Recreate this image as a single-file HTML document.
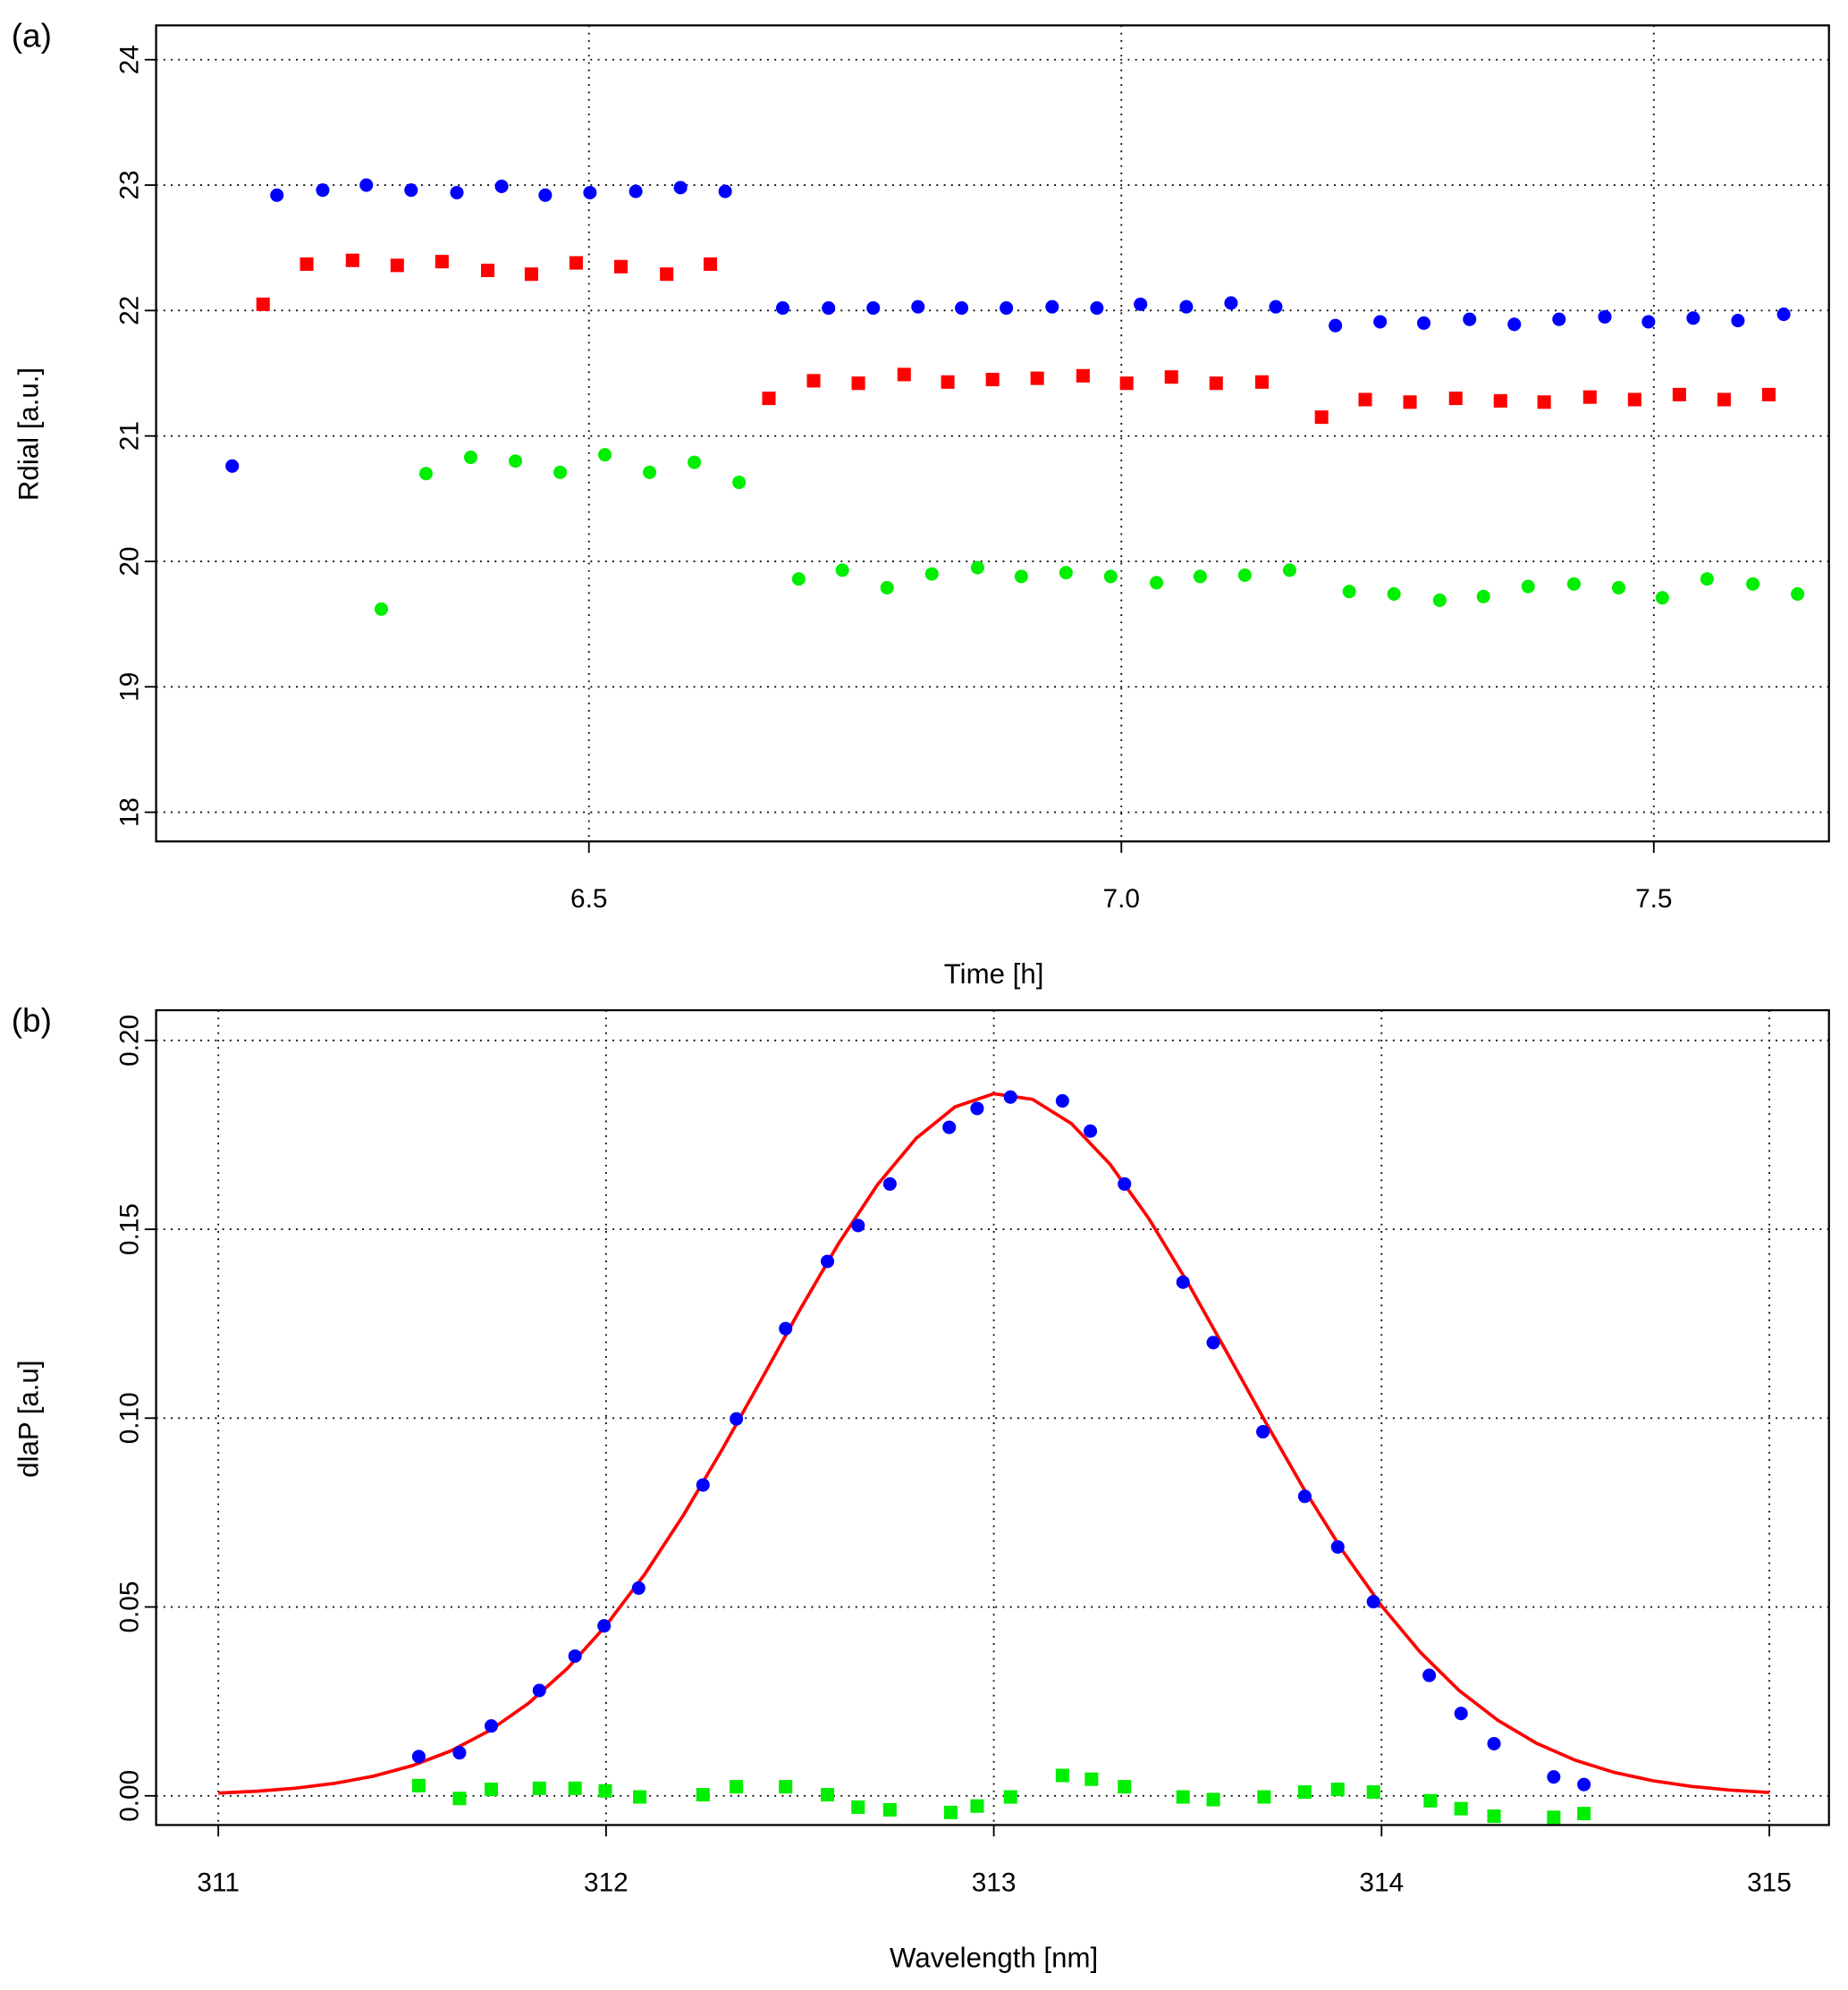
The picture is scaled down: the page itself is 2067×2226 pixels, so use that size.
<!DOCTYPE html>
<html><head><meta charset="utf-8"><style>
html,body{margin:0;padding:0;background:#fff}
svg{display:block}
text{font-family:"Liberation Sans",Arial,sans-serif;fill:#000}
</style></head><body>
<svg id="chart" width="2067" height="2226" viewBox="0 0 1456 1568" xmlns="http://www.w3.org/2000/svg"></svg>
<script>
// ---- Panel (a) data ----
const aBlueT=[6.165,6.207,6.250,6.291,6.333,6.376,6.418,6.459,6.501,6.544,6.586,6.628,6.682,6.725,6.767,6.809,6.850,6.892,6.935,6.977,7.018,7.061,7.103,7.145,7.201,7.243,7.284,7.327,7.369,7.411,7.454,7.495,7.537,7.579,7.622];
const aBlueV=[20.76,22.92,22.96,23.0,22.96,22.94,22.99,22.92,22.94,22.95,22.98,22.95,22.02,22.02,22.02,22.03,22.02,22.02,22.03,22.02,22.05,22.03,22.06,22.03,21.88,21.91,21.90,21.93,21.89,21.93,21.95,21.91,21.94,21.92,21.97];
const aRedT=[6.194,6.235,6.278,6.320,6.362,6.405,6.446,6.488,6.530,6.573,6.614,6.669,6.711,6.753,6.796,6.837,6.879,6.921,6.964,7.005,7.047,7.089,7.132,7.188,7.229,7.271,7.314,7.356,7.397,7.440,7.482,7.524,7.566,7.608];
const aRedV=[22.05,22.37,22.40,22.36,22.39,22.32,22.29,22.38,22.35,22.29,22.37,21.30,21.44,21.42,21.49,21.43,21.45,21.46,21.48,21.42,21.47,21.42,21.43,21.15,21.29,21.27,21.30,21.28,21.27,21.31,21.29,21.33,21.29,21.33];
const aGreenT=[6.305,6.347,6.389,6.431,6.473,6.515,6.557,6.599,6.641,6.697,6.738,6.780,6.822,6.865,6.906,6.948,6.990,7.033,7.074,7.116,7.158,7.214,7.256,7.299,7.340,7.382,7.425,7.467,7.508,7.550,7.593,7.635];
const aGreenV=[19.62,20.70,20.83,20.80,20.71,20.85,20.71,20.79,20.63,19.86,19.93,19.79,19.90,19.95,19.88,19.91,19.88,19.83,19.88,19.89,19.93,19.76,19.74,19.69,19.72,19.80,19.82,19.79,19.71,19.86,19.82,19.74];
const aXTicks=[6.5,7.0,7.5];
const aXTickLabels=["6.5","7.0","7.5"];
const aYTicks=[18,19,20,21,22,23,24];
const aYTickLabels=["18","19","20","21","22","23","24"];
// ---- Panel (b) data ----
const bBlueW=[311.517,311.622,311.704,311.828,311.920,311.995,312.084,312.250,312.336,312.463,312.571,312.650,312.732,312.885,312.957,313.043,313.177,313.249,313.337,313.488,313.566,313.694,313.802,313.887,313.979,314.123,314.205,314.290,314.444,314.522];
const bBlueV=[0.0104,0.0114,0.0185,0.0279,0.037,0.045,0.055,0.0823,0.0998,0.1237,0.1415,0.151,0.162,0.177,0.182,0.185,0.184,0.176,0.162,0.136,0.120,0.0964,0.0793,0.0659,0.0514,0.0319,0.0218,0.0138,0.0050,0.0030];
const bGreenW=[311.517,311.622,311.704,311.828,311.920,311.998,312.087,312.250,312.336,312.463,312.571,312.650,312.732,312.889,312.957,313.043,313.177,313.252,313.337,313.488,313.566,313.697,313.802,313.887,313.979,314.126,314.205,314.290,314.444,314.522];
const bGreenV=[0.0027,-0.0007,0.0017,0.002,0.002,0.0013,-0.0003,0.0003,0.0024,0.0024,0.0003,-0.003,-0.0037,-0.0044,-0.0027,-0.0003,0.0054,0.0044,0.0024,-0.0003,-0.001,-0.0003,0.001,0.0017,0.001,-0.0013,-0.0034,-0.0054,-0.0057,-0.0047];
const bFitW=[311.0,311.1,311.2,311.3,311.4,311.5,311.6,311.7,311.8,311.9,312.0,312.1,312.2,312.3,312.4,312.5,312.6,312.7,312.8,312.9,313.0,313.1,313.2,313.3,313.4,313.5,313.6,313.7,313.8,313.9,314.0,314.1,314.2,314.3,314.4,314.5,314.6,314.7,314.8,314.9,315.0];
const bFitV=[0.00072,0.00123,0.00204,0.00330,0.00521,0.00798,0.0119,0.0173,0.0245,0.0337,0.0451,0.0587,0.0744,0.0918,0.1101,0.1287,0.1463,0.1618,0.1741,0.1824,0.1859,0.1844,0.1780,0.1672,0.1528,0.1359,0.1176,0.0991,0.0812,0.0648,0.0503,0.0380,0.0279,0.0200,0.0139,0.00941,0.00620,0.00398,0.00248,0.00151,0.00089];
const bXTicks=[311,312,313,314,315];
const bXTickLabels=["311","312","313","314","315"];
const bYTicks=[0,0.05,0.10,0.15,0.20];
const bYTickLabels=["0.00","0.05","0.10","0.15","0.20"];

const NS="http://www.w3.org/2000/svg";
const svg=document.getElementById('chart');
function mk(tag,attrs,parent){const e=document.createElementNS(NS,tag);for(const k in attrs)e.setAttribute(k,attrs[k]);(parent||svg).appendChild(e);return e;}

function panel(cfg){
  const g=mk('g',{});
  
  
  const L=123,R=1441,T=cfg.top,B=cfg.bottom;
  const sx=v=>cfg.x0px+(v-cfg.x0)*cfg.xs;
  const sy=v=>cfg.y0px-(v-cfg.y0)*cfg.ys;
  cfg.yTicks.forEach(v=>{const l=mk('line',{x1:L,x2:R,y1:sy(v),y2:sy(v),stroke:'#000','stroke-width':1.3,'stroke-dasharray':'1.3 4.5'},g);
    });
  cfg.xTicks.forEach(v=>{const l=mk('line',{x1:sx(v),x2:sx(v),y1:T,y2:B,stroke:'#000','stroke-width':1.3,'stroke-dasharray':'1.3 4.5'},g);
    });
  cfg.xTicks.forEach((v,i)=>{const t=mk('line',{x1:sx(v),x2:sx(v),y1:B,y2:B+9,stroke:'#000','stroke-width':1.3},g);
    
    const tx=mk('text',{x:sx(v),y:B+52,'text-anchor':'middle','font-size':21},g);tx.textContent=cfg.xLabels[i];
    });
  cfg.yTicks.forEach((v,i)=>{const t=mk('line',{x1:L-9,x2:L,y1:sy(v),y2:sy(v),stroke:'#000','stroke-width':1.3},g);
    
    const tx=mk('text',{x:0,y:0,'text-anchor':'middle','font-size':21,transform:`translate(109,${sy(v)}) rotate(-90)`},g);tx.textContent=cfg.yLabels[i];
    });
  if(cfg.line){const p=mk('polyline',{points:cfg.line.x.map((v,i)=>sx(v)+','+sy(cfg.line.y[i])).join(' '),fill:'none',stroke:'#ff0000','stroke-width':2.6},g);
    }
  cfg.series.forEach(s=>{s.x.forEach((v,i)=>{
    let e;
    if(s.shape==='circle') e=mk('circle',{cx:sx(v),cy:sy(s.y[i]),r:5.3,fill:s.color},g);
    else e=mk('rect',{x:sx(v)-5.3,y:sy(s.y[i])-5.3,width:10.6,height:10.6,fill:s.color},g);
    
    
  });});
  const box=mk('rect',{x:L,y:T,width:R-L,height:B-T,fill:'none',stroke:'#000','stroke-width':1.6},g);
  
  const xt=mk('text',{x:783,y:cfg.xTitleY,'text-anchor':'middle','font-size':22},g);xt.textContent=cfg.xTitle;
  
  const yt=mk('text',{x:0,y:0,'text-anchor':'middle','font-size':22,transform:`translate(30,${cfg.yTitleC}) rotate(-90)`},g);yt.textContent=cfg.yTitle;
  
  const pl=mk('text',{x:9,y:cfg.top+17,'font-size':26},g);pl.textContent=cfg.label;
  
}

panel({name:'panel-a',top:20,bottom:663,x0:6.5,x0px:464,xs:839,y0:18,y0px:640,ys:98.83,
  xTicks:aXTicks,xLabels:aXTickLabels,yTicks:aYTicks,yLabels:aYTickLabels,
  series:[{x:aBlueT,y:aBlueV,color:'#0000ff',shape:'circle',name:'blue-point'},
          {x:aRedT,y:aRedV,color:'#ff0000',shape:'square',name:'red-point'},
          {x:aGreenT,y:aGreenV,color:'#00ee00',shape:'circle',name:'green-point'}],
  xTitle:'Time [h]',xTitleY:775,yTitle:'Rdial [a.u.]',yTitleC:342,label:'(a)'});

panel({name:'panel-b',top:796,bottom:1438,x0:311,x0px:172,xs:305.5,y0:0,y0px:1415,ys:2976,
  xTicks:bXTicks,xLabels:bXTickLabels,yTicks:bYTicks,yLabels:bYTickLabels,
  line:{x:bFitW,y:bFitV},
  series:[{x:bBlueW,y:bBlueV,color:'#0000ff',shape:'circle',name:'blue-point'},
          {x:bGreenW,y:bGreenV,color:'#00ee00',shape:'square',name:'green-point'}],
  xTitle:'Wavelength [nm]',xTitleY:1550,yTitle:'dlaP [a.u]',yTitleC:1118,label:'(b)'});
</script>
</body></html>
